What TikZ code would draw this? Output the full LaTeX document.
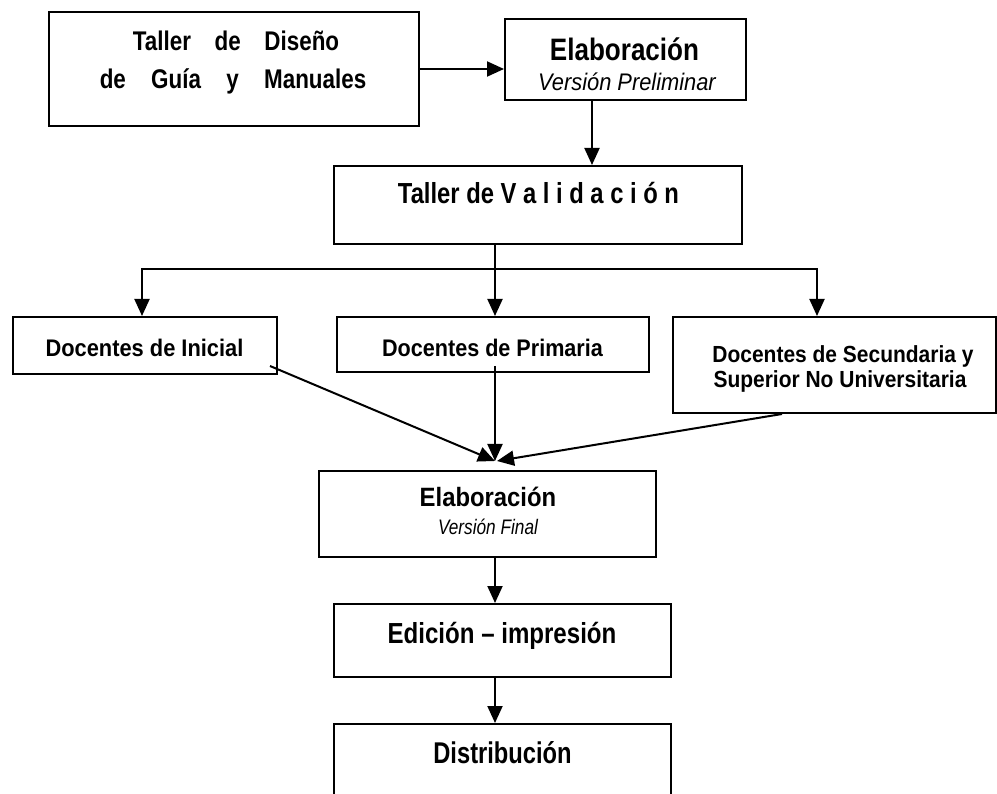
\documentclass[tikz,border=0pt]{standalone}
\usepackage{fontspec}
\setmainfont{Liberation Sans}
\usetikzlibrary{arrows.meta,calc}
\newcommand{\tx}[3]{\scalebox{#2}[1]{\fontsize{#1}{#1}\selectfont #3}}
\tikzset{
  box/.style={draw, line width=2pt, inner sep=0pt},
  lbl/.style={anchor=base, inner sep=0pt, font=\bfseries},
  ilbl/.style={anchor=base, inner sep=0pt, font=\itshape},
  arr/.style={line width=2pt, -{Triangle[length=17pt,width=15pt]}},
  ln/.style={line width=2pt}
}
\begin{document}
\begin{tikzpicture}[x=1pt,y=-1pt]
\path[use as bounding box] (0,0) rectangle (997,794);
\clip (0,0) rectangle (997,794);
% boxes
\node[box, minimum width=370pt, minimum height=114pt] (dis) at (234,69) {};
\node[box, minimum width=241pt, minimum height=81pt] (pre) at (625.5,59.5) {};
\node[box, minimum width=408pt, minimum height=78pt] (val) at (538,205) {};
\node[box, minimum width=264pt, minimum height=57pt] (ini) at (145,345.5) {};
\node[box, minimum width=312pt, minimum height=55pt] (pri) at (493,344.5) {};
\node[box, minimum width=323pt, minimum height=96pt] (sec) at (834.5,365) {};
\node[box, minimum width=337pt, minimum height=86pt] (fin) at (487.5,514) {};
\node[box, minimum width=337pt, minimum height=73pt] (edi) at (502.5,640.5) {};
\node[box, minimum width=337pt, minimum height=92pt] (dst) at (502.5,770) {};
% texts
\node[lbl] (t1a) at (236,51) {\tx{27}{.83}{Taller\hspace{21pt} de\hspace{21pt} Diseño}};
\node[lbl] (t1b) at (233,89) {\tx{27}{.83}{de\hspace{23pt} Guía\hspace{23pt} y\hspace{23pt} Manuales}};
\node[lbl] (t2a) at (624.5,61) {\tx{31}{.84}{Elaboración}};
\node[ilbl] (t2b) at (627,91) {\tx{24}{.91}{Versión Preliminar}};
\node[lbl] (t3) at (538.5,204) {\tx{29}{.82}{Taller de V a l i d a c i ó n}};
\node[lbl] (t4) at (144.5,357) {\tx{24}{.91}{Docentes de Inicial}};
\node[lbl] (t5) at (492.5,357) {\tx{24}{.9}{Docentes de Primaria}};
\node[lbl] (t6a) at (843,363) {\tx{23.3}{.9}{Docentes de Secundaria y}};
\node[lbl] (t6b) at (840,388) {\tx{23.3}{.9}{Superior No Universitaria}};
\node[lbl] (t7a) at (488,507) {\tx{26.5}{.9}{Elaboración}};
\node[ilbl] (t7b) at (488,534) {\tx{21}{.82}{Versión Final}};
\node[lbl] (t8) at (502,643) {\tx{29}{.83}{Edición – impresión}};
\node[lbl] (t9) at (502.5,763) {\tx{30}{.79}{Distribución}};
% coordinates
\coordinate (p) at ([xshift=-33.5pt]pre.south);
\coordinate (j) at (495,269);
\coordinate (m) at (495,461);
% connectors
\draw[arr] (dis.east) -- (dis.east -| pre.west);
\draw[arr] (p) -- (p |- val.north);
\draw[ln] (j |- val.south) -- (j);
\draw[arr] (j) -| ([xshift=-3pt]ini.north);
\draw[arr] (j) -- (j |- pri.north);
\draw[arr] (j) -| ([xshift=-17.5pt]sec.north);
\draw[arr] ($(ini.south east)+(-8,-9)$) -- (m);
\draw[arr] ($(m |- pri.south)+(0,-7)$) -- (m);
\draw[arr] ($(sec.south west)+(110,0)$) -- ([xshift=2pt]m);
\draw[arr] (m |- fin.south) -- (m |- edi.north);
\draw[arr] (m |- edi.south) -- (m |- dst.north);
\end{tikzpicture}
\end{document}
